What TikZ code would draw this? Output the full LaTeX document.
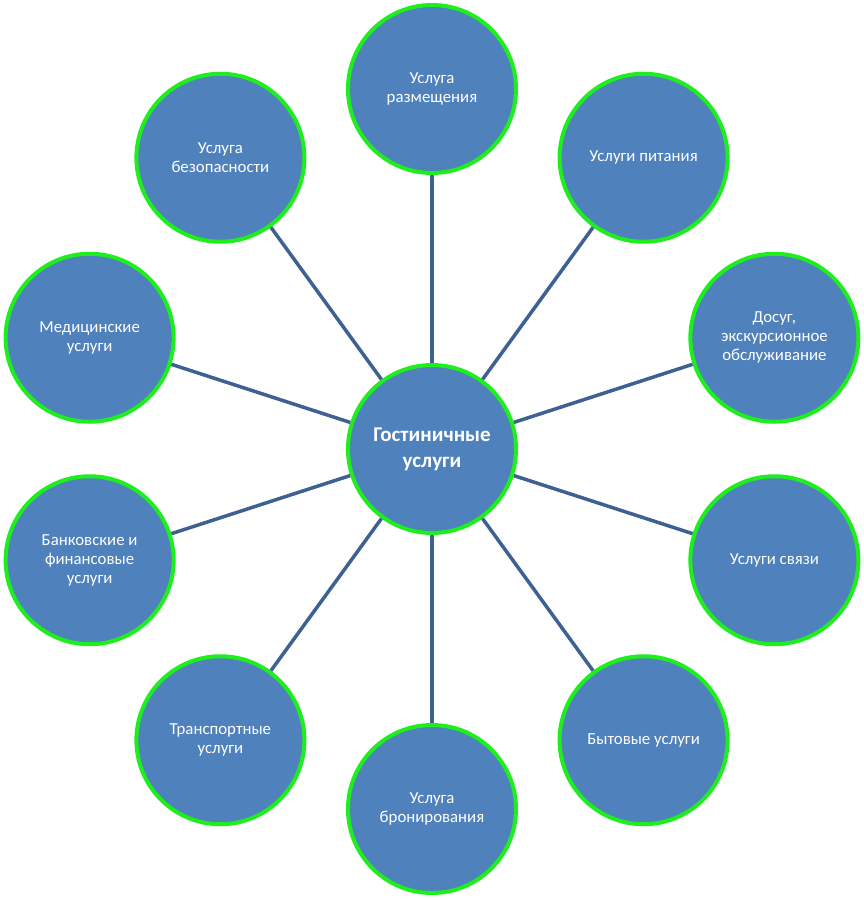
\documentclass[tikz,border=0pt]{standalone}
\usepackage{fontspec}
\setmainfont{Carlito}
\usepackage{xcolor}
\usepackage{tikz}
\usetikzlibrary{positioning}

\definecolor{ballblue}{HTML}{4F81BD}
\definecolor{ringgreen}{HTML}{1EEE1E}
\definecolor{spokeblue}{HTML}{3D6191}

\tikzset{
    ball/.style={circle, draw=ringgreen, line width=4pt, fill=ballblue,
        minimum size=168pt, inner sep=0pt, text=white, align=center},
    leaf/.style={ball, font=\fontsize{16.8}{19}\selectfont},
    hub/.style={ball, font=\fontsize{21}{26}\selectfont\bfseries},
    spoke/.style={draw=spokeblue, line width=3.5pt}
}

\begin{document}
\begin{tikzpicture}[x=1pt,y=1pt]
    % Page frame
    \useasboundingbox (-432,-451) rectangle (432,449);

    % Centre
    \node[hub] (hotel) at (0,0) {Гостиничные\\услуги};

    % Services round the centre
    \node[leaf] (lodging) at (90:360)   {Услуга\\размещения};
    \node[leaf] (food)    at (54:360)   {Услуги питания};
    \node[leaf] (leisure) at (18:360)   {Досуг,\\экскурсионное\\обслуживание};
    \node[leaf] (comms)   at (-18:360)  {Услуги связи};
    \node[leaf] (house)   at (-54:360)  {Бытовые услуги};
    \node[leaf] (booking) at (-90:360)  {Услуга\\бронирования};
    \node[leaf] (travel)  at (-126:360) {Транспортные\\услуги};
    \node[leaf] (bank)    at (-162:360) {Банковские и\\финансовые\\услуги};
    \node[leaf] (medical) at (162:360)  {Медицинские\\услуги};
    \node[leaf] (safety)  at (126:360)  {Услуга\\безопасности};

    % Spokes
    \foreach \n in {lodging,food,leisure,comms,house,booking,travel,bank,medical,safety}
        \draw[spoke] (hotel) -- (\n);
\end{tikzpicture}
\end{document}
